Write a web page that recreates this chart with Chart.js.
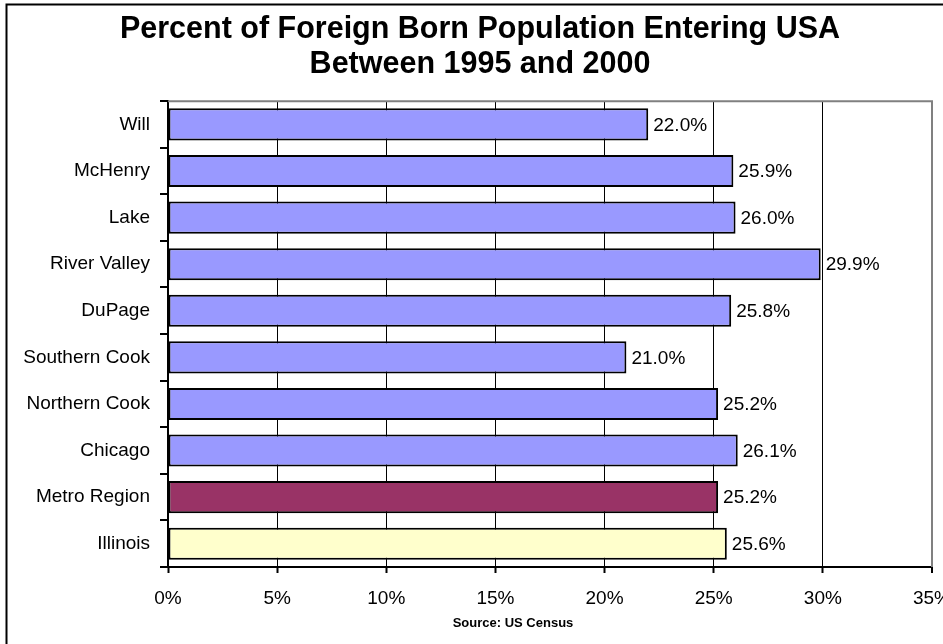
<!DOCTYPE html>
<html>
<head>
<meta charset="utf-8">
<script src="https://cdn.jsdelivr.net/npm/chart.js@4/dist/chart.umd.min.js"></script>
<style>
  html, body { margin: 0; padding: 0; background: #fff; }
  #wrap { width: 943px; height: 644px; position: relative; }
</style>
</head>
<body>
<div id="wrap"><canvas id="foreignChart"></canvas></div>
<script>
// data
var regions = ['Will', 'McHenry', 'Lake', 'River Valley', 'DuPage', 'Southern Cook',
               'Northern Cook', 'Chicago', 'Metro Region', 'Illinois'];
var percentNew = [22.0, 25.9, 26.0, 29.9, 25.8, 21.0, 25.2, 26.1, 25.2, 25.6];
var barColors = ['#9999FF', '#9999FF', '#9999FF', '#9999FF', '#9999FF', '#9999FF',
                 '#9999FF', '#9999FF', '#993366', '#FFFFCC'];
var titleLines = ['Percent of Foreign Born Population Entering USA', 'Between 1995 and 2000'];
var sourceNote = 'Source: US Census';

var FONT = '"Liberation Sans", Arial, sans-serif';

// frame, plot border, value labels, source note
var decorPlugin = {
    id: 'decor',
    afterDatasetsDraw: function (chart) {
        var ctx = chart.ctx;
        var area = chart.chartArea;
        ctx.save();
        // plot border top/right
        ctx.strokeStyle = '#808080';
        ctx.lineWidth = 2;
        ctx.beginPath();
        ctx.moveTo(area.left, area.top);
        ctx.lineTo(area.right, area.top);
        ctx.lineTo(area.right, area.bottom);
        ctx.stroke();

        // value labels
        ctx.fillStyle = '#000';
        ctx.font = '19px ' + FONT;
        ctx.textBaseline = 'middle';
        ctx.textAlign = 'left';
        var meta = chart.getDatasetMeta(0);
        meta.data.forEach(function (bar, i) {
            ctx.fillText(percentNew[i].toFixed(1) + '%', bar.x + 5, bar.y + 1);
        });

        // source note
        ctx.font = 'bold 13px ' + FONT;
        ctx.textAlign = 'center';
        ctx.fillText(sourceNote, 513, 623);

        // outer frame (cropped on the right and bottom)
        ctx.strokeStyle = '#000';
        ctx.lineWidth = 2;
        ctx.beginPath();
        ctx.moveTo(6.5, 700);
        ctx.lineTo(6.5, 4.5);
        ctx.lineTo(1000, 4.5);
        ctx.stroke();
        ctx.restore();
    }
};

var ctx1 = document.getElementById('foreignChart').getContext('2d');
new Chart(ctx1, {
    type: 'bar',
    data: {
        labels: regions,
        datasets: [{
            data: percentNew,
            backgroundColor: barColors,
            borderColor: '#000',
            borderWidth: 2,
            borderSkipped: false,
            barPercentage: 0.69,
            categoryPercentage: 1
        }]
    },
    options: {
        indexAxis: 'y',
        responsive: true,
        maintainAspectRatio: false,
        animation: false,
        layout: { padding: { left: 17, right: 0, top: 0, bottom: 0 } },
        plugins: {
            legend: { display: false },
            tooltip: { enabled: false },
            title: {
                display: true,
                text: titleLines,
                color: '#000',
                font: { family: FONT, size: 30.5, weight: 'bold', lineHeight: 1.15 },
                padding: { top: 12, bottom: 19 }
            }
        },
        scales: {
            x: {
                min: 0,
                max: 35,
                ticks: {
                    stepSize: 5,
                    color: '#000',
                    padding: 14,
                    maxRotation: 0,
                    font: { family: FONT, size: 19 },
                    callback: function (v) { return v + '%'; }
                },
                grid: {
                    color: function (c) { return c.tick && c.tick.value === 35 ? '#808080' : '#000'; },
                    lineWidth: function (c) { return c.tick && c.tick.value === 35 ? 2 : 1; },
                    tickLength: 6,
                    tickColor: '#000',
                    tickWidth: 2
                },
                border: { display: true, color: '#000', width: 2 },
                afterFit: function (scale) {
                    scale.height = 77;
                    scale.paddingLeft = 0;
                    scale.paddingRight = 11;
                }
            },
            y: {
                ticks: {
                    color: '#000',
                    padding: 10,
                    font: { family: FONT, size: 19 }
                },
                grid: {
                    offset: true,
                    drawOnChartArea: false,
                    tickLength: 8,
                    color: '#000',
                    lineWidth: 2
                },
                border: { display: true, color: '#000', width: 2 },
                afterFit: function (scale) {
                    scale.width = 151;
                }
            }
        }
    },
    plugins: [decorPlugin]
});
</script>
</body>
</html>
